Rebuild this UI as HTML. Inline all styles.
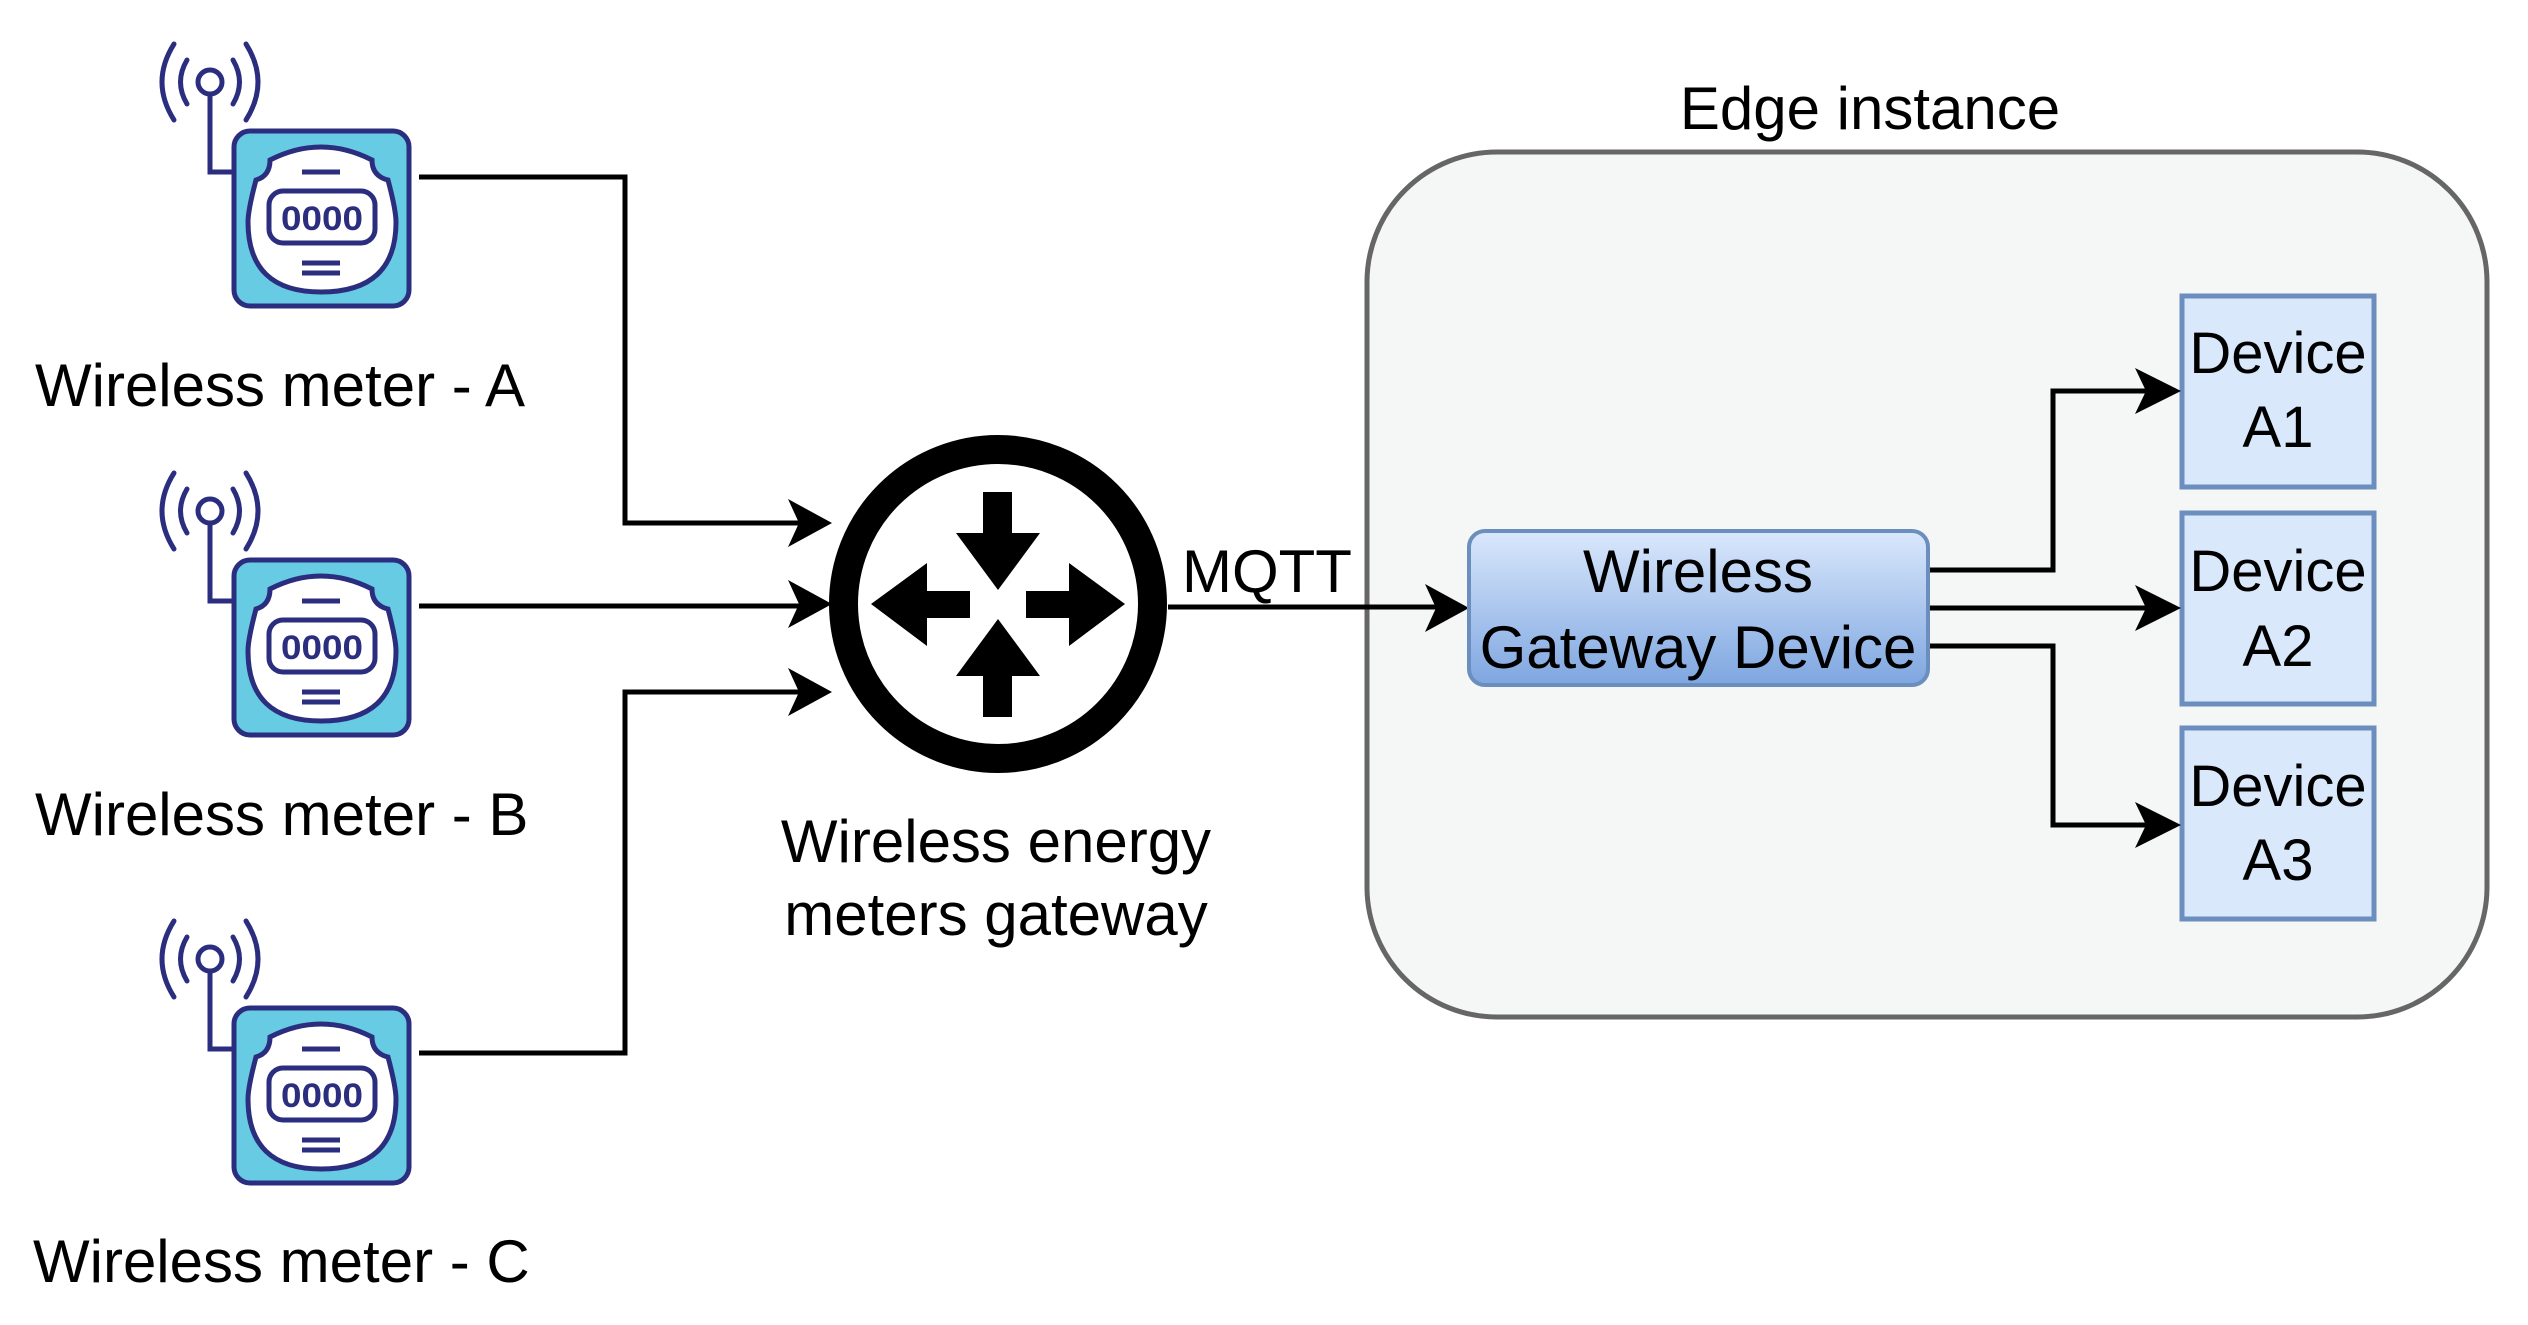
<!DOCTYPE html>
<html><head><meta charset="utf-8"><style>html,body{margin:0;padding:0;background:#fff}svg{display:block}</style></head>
<body>
<svg width="2528" height="1325" viewBox="0 0 2528 1325" xmlns="http://www.w3.org/2000/svg" font-family="'Liberation Sans', sans-serif">
<defs>
<linearGradient id="gg" x1="0" y1="0" x2="0" y2="1"><stop offset="0" stop-color="#dae8fc"/><stop offset="1" stop-color="#7ea6e0"/></linearGradient>
<g id="meter">
  <g fill="none" stroke="#2b2e7f" stroke-width="5" stroke-linecap="round">
    <circle cx="210" cy="82" r="12"/>
    <path d="M210 94 V172 H233"/>
    <path d="M233 60 Q246 82 233 104"/>
    <path d="M246 44 Q270 82 246 120"/>
    <path d="M187 60 Q174 82 187 104"/>
    <path d="M174 44 Q150 82 174 120"/>
  </g>
  <rect x="234" y="131" width="175" height="175" rx="16" fill="#67cbe4" stroke="#2b2e7f" stroke-width="5"/>
  <path d="M270 160 Q321 134 372 160 Q372 176 388 180 Q396 210 396 222 Q396 292 321 292 Q248 292 248 222 Q248 210 256 180 Q270 176 270 160 Z" fill="#fff" stroke="#2b2e7f" stroke-width="5"/>
  <line x1="302" y1="172" x2="340" y2="172" stroke="#2b2e7f" stroke-width="5"/>
  <line x1="302" y1="263" x2="340" y2="263" stroke="#2b2e7f" stroke-width="5"/>
  <line x1="302" y1="273" x2="340" y2="273" stroke="#2b2e7f" stroke-width="5"/>
  <rect x="269" y="191" width="106" height="52" rx="14" fill="#fff" stroke="#2b2e7f" stroke-width="5"/>
  <text x="322" y="230" font-size="34" font-weight="bold" fill="#2b2e7f" text-anchor="middle" textLength="82" lengthAdjust="spacingAndGlyphs">0000</text>
</g>
</defs>

<!-- edge container -->
<rect x="1367" y="152" width="1120" height="865" rx="130" fill="#f5f7f6" stroke="#666" stroke-width="5"/>

<use href="#meter"/>
<use href="#meter" transform="translate(0,429)"/>
<use href="#meter" transform="translate(0,877)"/>

<g font-size="60" fill="#000">
<text x="35" y="406">Wireless meter - A</text>
<text x="35" y="835">Wireless meter - B</text>
<text x="33" y="1282">Wireless meter - C</text>
<text x="996" y="862" text-anchor="middle">Wireless energy</text>
<text x="996" y="935" text-anchor="middle">meters gateway</text>
<text x="1182" y="592">MQTT</text>
<text x="1870" y="129" text-anchor="middle">Edge instance</text>
</g>

<g fill="none" stroke="#000" stroke-width="5">
<path d="M419 177 H625 V523 H800"/>
<path d="M419 606 H800"/>
<path d="M419 1053 H625 V692 H800"/>
<path d="M1168 607 H1440"/>
</g>
<g fill="#000">
<path d="M832 523 L788 499 L799 523 L788 547 Z"/>
<path d="M832 604 L788 580 L799 604 L788 628 Z"/>
<path d="M832 692 L788 668 L799 692 L788 716 Z"/>
<path d="M1469 608 L1425 584 L1436 608 L1425 632 Z"/>
</g>

<!-- router -->
<circle cx="998" cy="604" r="154.5" fill="#fff" stroke="#000" stroke-width="29"/>
<g fill="#000">
<path d="M983 492 H1012 V533 H1040 L998 590 L956 533 H983 Z"/>
<path d="M983 717 H1012 V676 H1040 L998 619 L956 676 H983 Z"/>
<path d="M970 591 V618 H927 V646 L871 604 L927 563 V591 Z"/>
<path d="M1026 591 V618 H1069 V646 L1125 604 L1069 563 V591 Z"/>
</g>

<rect x="1469" y="531" width="459" height="154" rx="16" fill="url(#gg)" stroke="#6c8ebf" stroke-width="4"/>
<g font-size="60" fill="#000" text-anchor="middle">
<text x="1698" y="592">Wireless</text>
<text x="1698" y="668">Gateway Device</text>
</g>

<g fill="#dae8fc" stroke="#6c8ebf" stroke-width="5">
<rect x="2182" y="296" width="192" height="191"/>
<rect x="2182" y="513" width="192" height="191"/>
<rect x="2182" y="728" width="192" height="191"/>
</g>
<g font-size="58" fill="#000" text-anchor="middle">
<text x="2278" y="373">Device</text><text x="2278" y="447">A1</text>
<text x="2278" y="591">Device</text><text x="2278" y="666">A2</text>
<text x="2278" y="806">Device</text><text x="2278" y="880">A3</text>
</g>

<g fill="none" stroke="#000" stroke-width="5">
<path d="M1930 570 H2053 V391 H2150"/>
<path d="M1930 608 H2150"/>
<path d="M1930 646 H2053 V825 H2150"/>
</g>
<g fill="#000">
<path d="M2181 391 L2135 368 L2146 391 L2135 414 Z"/>
<path d="M2181 608 L2135 585 L2146 608 L2135 631 Z"/>
<path d="M2181 825 L2135 802 L2146 825 L2135 848 Z"/>
</g>
</svg>
</body></html>
